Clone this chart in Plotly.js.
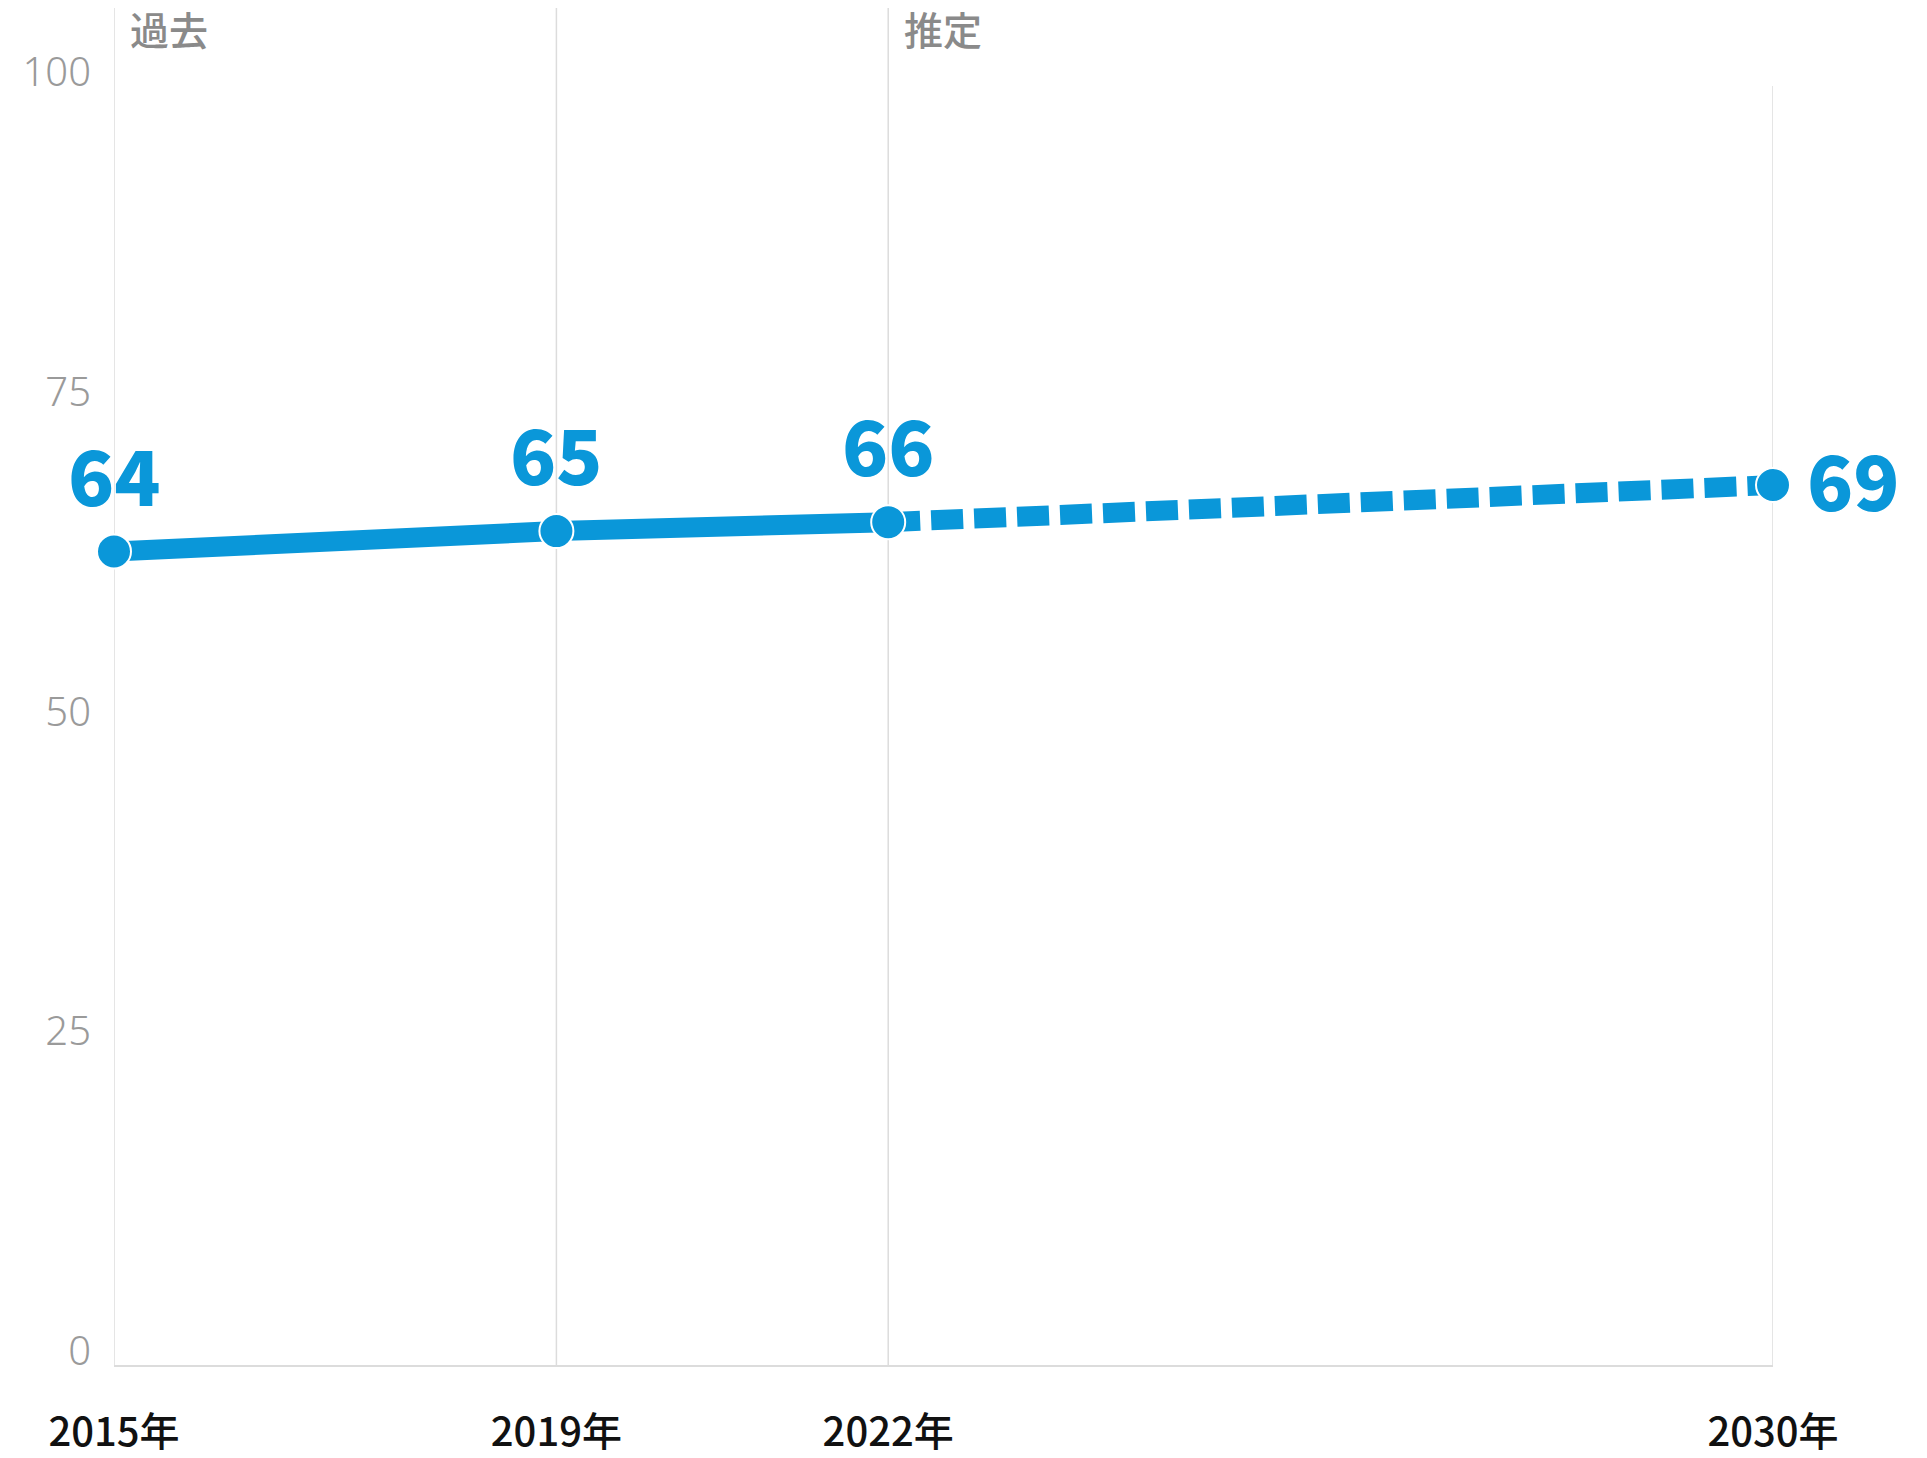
<!DOCTYPE html>
<html>
<head>
<meta charset="utf-8">
<script src="https://cdn.plot.ly/plotly-3.0.1.min.js"></script>
<style>
  html, body { margin: 0; padding: 0; background: #fff; }
  #chart { width: 1927px; height: 1458px; }
</style>
</head>
<body>
<div id="chart"></div>
<script>
// ---- data ----
const years = [2015, 2019, 2022, 2030];
const yearLabels = ['2015年', '2019年', '2022年', '2030年'];
const values = [63.6, 65.2, 65.9, 68.8];
const valueLabels = ['64', '65', '66', '69'];
const yTicks = [0, 25, 50, 75, 100];
const periodLabels = ['過去', '推定'];
const periodStartYears = [2015, 2022];
const pastCount = 3; // 2015, 2019, 2022 are actual values

const blue = '#0a97d9';
const grid = '#dcdcdc';

const pastTrace = {
  x: years.slice(0, pastCount),
  y: values.slice(0, pastCount),
  mode: 'lines',
  line: { color: blue, width: 20 },
  cliponaxis: false,
  hoverinfo: 'skip'
};
const estTrace = {
  x: years.slice(pastCount - 1),
  y: values.slice(pastCount - 1),
  mode: 'lines',
  line: { color: blue, width: 20, dash: '32px,11px' },
  cliponaxis: false,
  hoverinfo: 'skip'
};
const markerTrace = {
  x: years,
  y: values,
  mode: 'markers',
  marker: { color: blue, size: 34, line: { color: '#ffffff', width: 2 } },
  cliponaxis: false
};

const annotations = [];
years.forEach((yr, i) => {
  const last = i === years.length - 1;
  annotations.push({
    x: yr, y: values[i], xref: 'x', yref: 'y',
    text: valueLabels[i], showarrow: false,
    xanchor: 'center', yanchor: 'middle',
    xshift: last ? 80 : 0, yshift: last ? 7 : 79,
    font: { family: '"Noto Sans CJK JP", "Noto Sans", sans-serif', size: 76, weight: 900, color: blue }
  });
});
periodLabels.forEach((t, i) => {
  annotations.push({
    x: periodStartYears[i], y: 1, xref: 'x', yref: 'paper',
    text: t, showarrow: false,
    xanchor: 'left', yanchor: 'middle',
    xshift: 14, yshift: 58,
    font: { family: '"Noto Sans CJK JP", sans-serif', size: 39, weight: 500, color: '#8a8a8a' }
  });
});

// vertical gridlines: the first three extend above the plot area
const shapes = years.map((yr, i) => ({
  type: 'line', xref: 'x', yref: 'paper',
  x0: yr, x1: yr, y0: 0, y1: i < pastCount ? 1.061 : 1,
  line: { color: grid, width: 1.5 }, layer: 'below'
}));

const layout = {
  width: 1927, height: 1458,
  margin: { l: 114, r: 154, t: 86, b: 93 },
  paper_bgcolor: '#ffffff', plot_bgcolor: '#ffffff',
  showlegend: false,
  font: { family: '"Noto Sans CJK JP", "Noto Sans", sans-serif' },
  xaxis: {
    range: [2015, 2030],
    tickmode: 'array', tickvals: years, ticktext: yearLabels,
    showgrid: false,
    showline: true, linecolor: grid, linewidth: 2,
    zeroline: false, ticks: '',
    ticklabelstandoff: 31,
    tickfont: { family: '"Noto Sans CJK JP", sans-serif', size: 40, weight: 500, color: '#111111' },
    fixedrange: true
  },
  yaxis: {
    range: [0, 100],
    tickmode: 'array', tickvals: yTicks,
    showgrid: false, zeroline: false, showline: false, ticks: '',
    ticklabelshift: -14,
    ticklabelstandoff: 22,
    tickfont: { family: '"Noto Sans", "Open Sans", sans-serif', size: 40, weight: 300, color: '#9a9a9a' },
    fixedrange: true
  },
  annotations: annotations,
  shapes: shapes
};

Plotly.newPlot('chart', [pastTrace, estTrace, markerTrace], layout, { displayModeBar: false, staticPlot: true });
</script>
</body>
</html>
